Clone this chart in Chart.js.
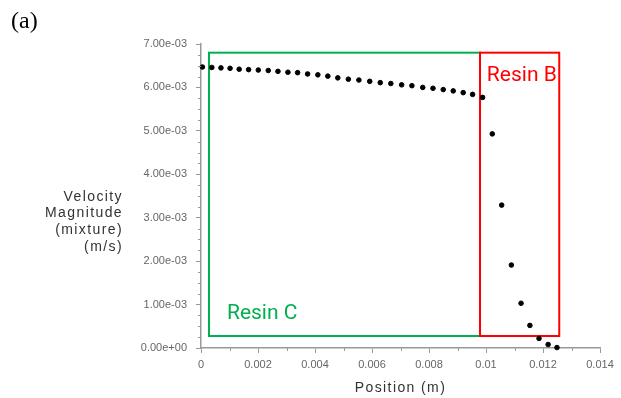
<!DOCTYPE html>
<html>
<head>
<meta charset="utf-8">
<script src="https://cdn.jsdelivr.net/npm/chart.js@4"></script>
<style>
  html, body { margin: 0; padding: 0; background: #fff; }
  #wrap { width: 621px; height: 398px; position: relative; }
</style>
</head>
<body>
<div id="wrap"><canvas id="velChart"></canvas></div>
<script>
// Posição (m) e velocidade (m/s)
const posicao = [
  0.00005, 0.00038, 0.00070, 0.00102, 0.00134, 0.00167, 0.00201, 0.00236,
  0.00270, 0.00305, 0.00339, 0.00374, 0.00410, 0.00445, 0.00480, 0.00517,
  0.00554, 0.00592, 0.00629, 0.00666, 0.00704, 0.00740, 0.00778, 0.00814,
  0.00850, 0.00885, 0.00920, 0.00953, 0.00988,
  0.01022, 0.01055, 0.01089, 0.01123, 0.01154, 0.01186, 0.01218, 0.01249
];
const velocidade = [
  0.00647, 0.00646, 0.00645, 0.00644, 0.00642, 0.00641, 0.00640, 0.00639,
  0.00637, 0.00635, 0.00634, 0.00631, 0.00629, 0.00626, 0.00622, 0.00619,
  0.00617, 0.00614, 0.00611, 0.00609, 0.00606, 0.00604, 0.00600, 0.00598,
  0.00595, 0.00592, 0.00588, 0.00584, 0.00577,
  0.00493, 0.00329, 0.00191, 0.00103, 0.00052, 0.00022, 0.00008, 0.00001
];
const xTicks = [0, 0.002, 0.004, 0.006, 0.008, 0.01, 0.012, 0.014];
const yTicks = [0, 0.001, 0.002, 0.003, 0.004, 0.005, 0.006, 0.007];

// Regiões das resinas (em unidades dos eixos)
const regioes = [
  { nome: 'Resin C', cor: '#00b050', x0: 0.00028, x1: 0.00979, y0: 0.000276, y1: 0.0068, lx: 0.00091, ly: 0.00067 },
  { nome: 'Resin B', cor: '#ff0000', x0: 0.00979, x1: 0.01257, y0: 0.000276, y1: 0.0068, lx: 0.01003, ly: 0.00614 }
];

const pontos = posicao.map((x, i) => ({ x: x, y: velocidade[i] }));

const fmtY = v => {
  if (v === 0) return '0.00e+00';
  const [m, e] = v.toExponential(2).split('e');
  const n = parseInt(e, 10);
  return m + 'e' + (n < 0 ? '-' : '+') + String(Math.abs(n)).padStart(2, '0');
};

const extras = {
  id: 'extras',
  beforeDatasetsDraw(chart) {
    const { ctx, scales: { x, y } } = chart;
    ctx.save();
    regioes.forEach(r => {
      ctx.strokeStyle = r.cor;
      ctx.lineWidth = 2;
      const px0 = x.getPixelForValue(r.x0), px1 = x.getPixelForValue(r.x1);
      const py0 = y.getPixelForValue(r.y0), py1 = y.getPixelForValue(r.y1);
      ctx.strokeRect(px0, py1, px1 - px0, py0 - py1);
      ctx.fillStyle = r.cor;
      ctx.font = '21px Roboto';
      ctx.textAlign = 'left';
      ctx.textBaseline = 'alphabetic';
      ctx.fillText(r.nome, x.getPixelForValue(r.lx), y.getPixelForValue(r.ly));
    });
    ctx.restore();
  },
  afterDraw(chart) {
    const { ctx, chartArea, scales: { x, y } } = chart;
    ctx.save();
    // ticks menores
    ctx.strokeStyle = '#999';
    ctx.lineWidth = 1;
    for (let v = 0.00025; v < 0.007; v += 0.00025) {
      if (Math.abs(v / 0.001 - Math.round(v / 0.001)) < 1e-6) continue;
      const py = Math.round(y.getPixelForValue(v)) + 0.5;
      ctx.beginPath(); ctx.moveTo(chartArea.left - 3, py); ctx.lineTo(chartArea.left, py); ctx.stroke();
    }
    for (let v = 0.001; v < 0.014; v += 0.002) {
      const px = Math.round(x.getPixelForValue(v)) + 0.5;
      ctx.beginPath(); ctx.moveTo(px, chartArea.bottom); ctx.lineTo(px, chartArea.bottom + 3); ctx.stroke();
    }
    // títulos
    ctx.fillStyle = '#333';
    ctx.font = '14px "Liberation Sans"';
    ctx.letterSpacing = '1.4px';
    ctx.textAlign = 'right';
    ctx.textBaseline = 'middle';
    ['Velocity', 'Magnitude', '(mixture)', '(m/s)'].forEach((t, i) => {
      ctx.fillText(t, 123, 197 + i * 16.6);
    });
    ctx.textAlign = 'center';
    ctx.fillText('Position (m)', (chartArea.left + chartArea.right) / 2, 388);
    ctx.letterSpacing = '0px';
    ctx.fillStyle = '#000';
    ctx.font = '24px "Liberation Serif"';
    ctx.textAlign = 'left';
    ctx.textBaseline = 'alphabetic';
    ctx.fillText('(a)', 11, 28);
    ctx.restore();
  }
};

const eixo = {
  border: { display: true, color: '#999', width: 1.5 },
  grid: { display: true, drawOnChartArea: false, drawTicks: true, tickLength: 5, tickColor: '#999' }
};

new Chart(document.getElementById('velChart').getContext('2d'), {
  type: 'scatter',
  data: {
    datasets: [{
      label: 'Velocity Magnitude',
      data: pontos,
      backgroundColor: '#000',
      borderColor: '#000',
      pointRadius: 2.3,
      pointHoverRadius: 2.3,
      clip: false
    }]
  },
  options: {
    responsive: true,
    maintainAspectRatio: false,
    animation: false,
    devicePixelRatio: 1,
    layout: { padding: { top: 44, right: 21, left: 0, bottom: 0 } },
    plugins: { legend: { display: false }, tooltip: { enabled: false } },
    scales: {
      x: {
        type: 'linear', min: 0, max: 0.014,
        ...eixo,
        afterBuildTicks: s => { s.ticks = xTicks.map(v => ({ value: v })); },
        afterFit: s => { s.height = 50; },
        ticks: {
          maxRotation: 0, autoSkip: false, padding: 5, color: '#666',
          font: { family: '"Liberation Sans"', size: 11 },
          callback: v => String(+v.toFixed(3))
        }
      },
      y: {
        type: 'linear', min: 0, max: 0.007,
        ...eixo,
        afterBuildTicks: s => { s.ticks = yTicks.map(v => ({ value: v })); },
        afterFit: s => { s.width = 201; },
        ticks: {
          autoSkip: false, padding: 9, color: '#666',
          font: { family: '"Liberation Sans"', size: 11 },
          callback: v => fmtY(v)
        }
      }
    }
  },
  plugins: [extras]
});
</script>
</body>
</html>
